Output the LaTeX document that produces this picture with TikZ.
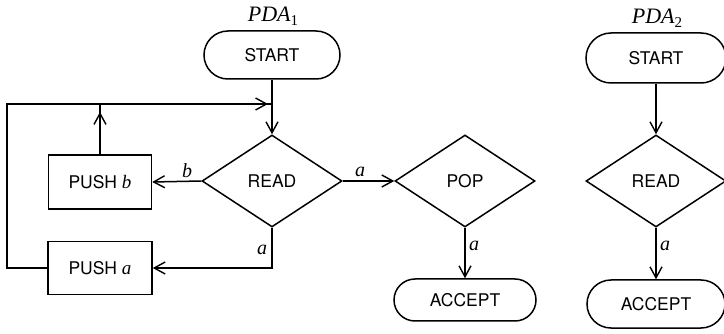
\documentclass[tikz,border=0pt]{standalone}
\usepackage{fontspec}
\setmainfont{Liberation Serif}
\newfontfamily\hv{TeX Gyre Heros}
\newcommand\varit[1]{{\rmfamily\itshape\fontsize{19}{20}\selectfont #1}}
\usetikzlibrary{shapes.geometric,shapes.misc,arrows.meta,calc}
\tikzset{
  base/.style={draw, line width=1.5pt, inner sep=0pt, font=\hv\fontsize{17.5}{19}\selectfont},
  term/.style={base, rounded rectangle},
  dec/.style={base, diamond, minimum width=140pt, minimum height=92pt},
  proc/.style={base, rectangle},
  conn/.style={line width=1.5pt},
  arr/.style={conn, -{Straight Barb[length=11pt,width=12pt,line width=1.4pt]}},
  lab/.style={font=\itshape\fontsize{20}{22}\selectfont, inner sep=0pt},
  ttl/.style={font=\itshape\fontsize{22}{24}\selectfont, inner sep=0pt}
}
\begin{document}
\begin{tikzpicture}[x=1pt,y=-1pt]
\useasboundingbox (0,0) rectangle (724,334);
% PDA1
\node[ttl] (t1) at (273,16) {PDA\raisebox{-4pt}{\upshape\fontsize{15}{15}\selectfont 1}};
\node[term, minimum width=136pt, minimum height=48pt] (start1) at (272,55) {START};
\node[dec] (read1) at (272,181) {READ};
\node[proc, minimum width=103pt, minimum height=54pt] (pushb) at (100,182) {PUSH \varit{b}};
\node[proc, minimum width=104pt, minimum height=53pt] (pusha) at (100,268) {PUSH \varit{a}};
\node[dec] (pop) at (465,181) {POP};
\node[term, minimum width=142pt, minimum height=42pt] (accept1) at (465,300) {ACCEPT};
\coordinate (j) at (272,104);
\coordinate (lc) at (7,104);

\draw[arr] (start1.south) -- (read1.north);
\draw[conn] (pusha.west) -| (lc) -- (j);
\draw[arr] (lc) -- ($(j)+(-4,0)$);
\draw[conn] (pushb.north) -- (pushb.north |- j);
\draw[arr] (pushb.north) -- ($(pushb.north |- j)+(0,8)$);
\draw[arr] (read1.west) -- (pushb.east);
\node[lab] (lb) at (187,171) {b};
\draw[arr] (read1.south) |- (pusha.east);
\node[lab] (la1) at (262,250) {a};
\draw[arr] (read1.east) -- (pop.west);
\node[lab] (la2) at (360,172) {a};
\draw[arr] (pop.south) -- (accept1.north);
\node[lab] (la3) at (474,246) {a};

% PDA2
\node[ttl] (t2) at (657,18) {PDA\raisebox{-4pt}{\upshape\fontsize{15}{15}\selectfont 2}};
\node[term, minimum width=140pt, minimum height=50pt] (start2) at (656,58) {START};
\node[dec] (read2) at (656,181) {READ};
\node[term, minimum width=138pt, minimum height=48pt] (accept2) at (656,304) {ACCEPT};
\draw[arr] (start2.south) -- (read2.north);
\draw[arr] (read2.south) -- (accept2.north);
\node[lab] (la4) at (665,246) {a};
\end{tikzpicture}
\end{document}
